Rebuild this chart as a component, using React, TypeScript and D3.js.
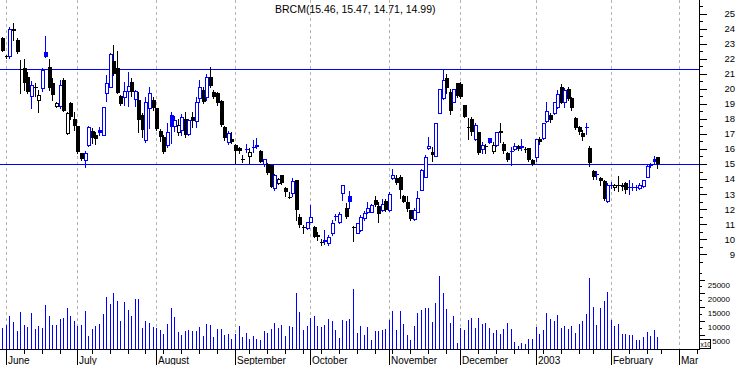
import React from 'react';
import * as d3 from 'd3';

const TITLE = 'BRCM(15.46, 15.47, 14.71, 14.99)';
const startDate = '2002-05-31';
const holidays = ['2002-07-04', '2002-09-02', '2002-11-28', '2002-12-25', '2003-01-01', '2003-01-20', '2003-02-17'];
const monthLabels = ['June', 'July', 'August', 'September', 'October', 'November', 'December', '2003', 'February', 'Mar'];
const monthStartDates = ['2002-06-03', '2002-07-01', '2002-08-01', '2002-09-03', '2002-10-02', '2002-11-01', '2002-12-02', '2003-01-02', '2003-02-03', '2003-03-03'];

const opens = [
  23.35, 22.1, 22.2, 24.0, 23.24, 21.3, 21.4, 20.8, 19.52, 20.1,
  19.25, 20.03, 22.46, 21.42, 20.4, 18.85, 18.85, 20.58, 17.04, 19.03,
  17.97, 17.52, 15.7, 15.27, 16.26, 17.21, 16.9, 17.26, 16.93, 19.7,
  20.14, 21.84, 21.36, 19.52, 19.43, 19.87, 20.47, 19.3, 19.25, 18.26,
  16.6, 18.7, 19.25, 18.7, 17.19, 16.8, 16.26, 18.26, 17.5, 17.1,
  17.26, 17.97, 17.0, 18.1, 17.86, 19.36, 19.92, 19.43, 20.8, 19.76,
  19.7, 19.2, 17.48, 16.48, 16.68, 16.26, 16.08, 15.35, 15.95, 15.53,
  16.05, 16.26, 15.89, 15.0, 15.0, 14.93, 13.38, 13.76, 14.27, 13.43,
  12.8, 13.05, 13.94, 11.5, 10.8, 10.72, 11.17, 10.84, 10.28, 9.8,
  9.95, 9.73, 10.4, 11.45, 11.17, 13.1, 12.05, 12.87, 10.8, 10.44,
  10.6, 11.4, 11.8, 11.83, 12.6, 12.2, 11.94, 12.56, 11.94, 14.05,
  14.1, 14.16, 12.87, 12.5, 11.94, 11.32, 11.83, 13.27, 14.16, 16.04,
  15.82, 15.55, 18.41, 19.36, 20.69, 19.8, 19.14, 20.36, 20.31, 18.92,
  17.45, 17.97, 16.64, 17.15, 15.97, 16.22, 16.7, 15.89, 16.26, 17.21,
  16.33, 15.75, 15.85, 15.97, 16.2, 16.2, 16.0, 16.04, 15.27, 15.44,
  16.64, 16.7, 17.88, 18.26, 18.37, 18.77, 20.14, 19.14, 19.98, 19.36,
  18.03, 17.48, 17.08, 17.4, 16.04, 14.56, 14.3, 14.1, 13.87, 12.56,
  13.6, 13.45, 13.58, 13.6, 13.71, 13.42, 13.5, 13.45, 13.38, 13.54,
  14.16, 14.9, 15.31, 15.46,
];
const highs = [
  23.45, 22.25, 24.08, 24.4, 23.35, 21.9, 21.95, 21.13, 20.5, 20.36,
  19.9, 21.4, 23.5, 21.95, 20.7, 19.1, 20.58, 20.7, 18.45, 19.14,
  18.48, 17.55, 15.75, 15.87, 17.53, 17.37, 17.15, 17.48, 18.77, 20.91,
  22.35, 22.9, 22.5, 19.6, 20.47, 21.13, 20.7, 19.92, 19.8, 18.37,
  19.47, 20.14, 19.47, 18.75, 17.3, 16.95, 17.7, 18.48, 18.2, 17.97,
  18.3, 18.48, 18.0, 18.48, 19.47, 20.58, 20.14, 20.98, 21.47, 19.92,
  19.8, 19.25, 17.5, 17.2, 17.15, 16.35, 16.15, 15.6, 16.33, 16.04,
  16.6, 16.7, 15.92, 15.35, 15.05, 14.95, 14.35, 14.05, 14.3, 13.5,
  13.15, 14.1, 13.96, 11.7, 10.95, 11.17, 12.28, 10.86, 10.5, 10.0,
  10.6, 10.28, 11.28, 11.7, 11.8, 13.6, 12.4, 13.2, 10.85, 11.1,
  11.6, 11.9, 12.5, 12.34, 12.9, 12.5, 12.65, 12.65, 13.15, 14.7,
  14.3, 14.3, 12.95, 12.9, 11.96, 12.05, 13.2, 14.7, 15.6, 16.8,
  16.15, 17.75, 20.0, 21.29, 20.98, 19.96, 20.0, 20.4, 20.45, 18.95,
  18.03, 18.15, 17.7, 17.15, 16.48, 16.35, 16.75, 16.48, 17.15, 17.75,
  16.48, 15.82, 16.1, 16.42, 16.26, 16.64, 16.15, 16.04, 15.3, 16.64,
  16.8, 17.75, 19.14, 18.37, 19.14, 19.92, 20.32, 20.03, 20.14, 19.42,
  18.1, 17.52, 17.26, 17.75, 16.2, 14.6, 14.56, 14.16, 13.94, 13.71,
  13.83, 13.7, 14.2, 13.71, 13.83, 13.94, 13.71, 13.6, 13.71, 13.94,
  14.93, 15.08, 15.53, 15.47,
];
const lows = [
  22.5, 22.05, 22.02, 23.24, 22.35, 19.74, 19.9, 19.7, 18.74, 19.52,
  18.48, 19.85, 22.1, 19.92, 19.25, 18.8, 18.7, 18.5, 17.0, 18.0,
  17.26, 15.7, 15.25, 14.82, 16.2, 16.4, 16.33, 16.93, 16.9, 19.2,
  20.1, 20.9, 19.7, 18.9, 18.92, 18.85, 19.5, 18.85, 17.15, 16.77,
  16.49, 17.37, 18.6, 17.25, 16.5, 15.7, 16.15, 16.37, 17.2, 16.9,
  16.93, 16.82, 16.9, 17.44, 17.44, 19.14, 19.08, 19.25, 20.14, 19.36,
  18.95, 17.55, 16.6, 16.3, 16.4, 15.04, 15.7, 15.15, 15.82, 15.09,
  15.8, 16.05, 15.1, 14.9, 14.35, 13.45, 13.3, 13.7, 13.7, 12.9,
  12.72, 12.85, 11.3, 10.84, 10.43, 10.7, 11.15, 10.15, 9.95, 9.6,
  9.7, 9.65, 10.3, 11.3, 11.1, 12.6, 11.4, 12.05, 9.9, 10.4,
  10.55, 11.3, 11.75, 11.78, 12.2, 11.17, 11.9, 11.9, 11.9, 14.0,
  13.7, 12.72, 12.45, 11.9, 11.28, 11.28, 11.8, 13.25, 14.12, 16.0,
  15.2, 15.52, 18.37, 19.3, 19.7, 18.32, 19.1, 19.45, 19.4, 18.1,
  16.64, 16.9, 16.6, 15.66, 15.71, 15.71, 16.37, 15.75, 16.2, 16.48,
  15.7, 15.2, 14.93, 15.9, 15.93, 15.93, 15.8, 15.22, 14.95, 15.22,
  16.3, 16.64, 17.82, 17.82, 18.32, 18.7, 19.03, 18.8, 19.25, 18.6,
  17.3, 17.0, 16.6, 17.0, 14.87, 14.0, 14.0, 13.6, 12.6, 12.5,
  13.38, 13.3, 13.23, 13.27, 13.1, 13.0, 13.27, 13.27, 13.33, 13.5,
  14.16, 14.8, 15.0, 14.71,
];
const closes = [
  22.53, 22.2, 23.95, 23.86, 22.42, 21.25, 20.4, 19.8, 20.25, 20.05,
  19.56, 21.25, 22.13, 20.03, 19.58, 19.03, 20.25, 18.54, 18.41, 18.1,
  17.52, 15.82, 15.31, 15.71, 17.44, 16.7, 16.68, 17.04, 18.77, 20.36,
  22.29, 20.96, 19.74, 18.99, 19.87, 20.18, 19.8, 19.85, 17.92, 17.26,
  19.14, 19.7, 18.7, 17.3, 16.77, 15.77, 17.1, 17.48, 17.9, 17.6,
  18.15, 16.93, 17.92, 17.86, 19.14, 20.1, 19.14, 20.8, 20.18, 19.47,
  19.03, 17.6, 16.7, 17.08, 16.46, 15.88, 15.86, 15.3, 16.0, 15.82,
  16.12, 16.14, 15.15, 15.3, 14.38, 13.5, 14.27, 13.98, 13.76, 13.16,
  12.78, 13.89, 11.94, 10.95, 10.77, 11.17, 11.5, 10.17, 10.12, 9.77,
  9.8, 10.17, 11.06, 11.52, 11.68, 13.6, 11.5, 12.5, 10.72, 11.06,
  11.5, 11.77, 12.05, 12.27, 12.25, 11.68, 12.34, 11.94, 13.0, 14.27,
  13.76, 13.27, 12.5, 11.99, 11.32, 11.94, 12.72, 14.6, 15.49, 16.2,
  15.6, 17.7, 19.96, 20.6, 20.03, 18.54, 19.96, 19.52, 19.47, 18.15,
  17.41, 17.15, 17.6, 15.71, 16.26, 16.2, 16.42, 16.26, 17.15, 17.04,
  15.89, 15.27, 15.89, 16.2, 15.97, 16.04, 15.97, 15.27, 15.0, 16.64,
  16.48, 17.7, 18.54, 17.92, 19.14, 19.65, 19.08, 19.92, 19.3, 18.7,
  17.37, 17.15, 16.82, 17.44, 15.09, 14.16, 14.34, 13.9, 12.65, 13.6,
  13.62, 13.6, 13.56, 13.5, 13.27, 13.45, 13.46, 13.47, 13.6, 13.94,
  14.87, 14.93, 15.15, 14.99,
];
const volumes = [
  7700, 8600, 11900, 9700, 6500, 13300, 8600, 7900, 12900, 7200,
  8300, 7600, 15800, 11900, 8600, 8600, 10800, 11200, 14700, 11900,
  10100, 8300, 8600, 13700, 4700, 7200, 8300, 9000, 12600, 18700,
  16200, 20100, 17300, 10100, 16900, 14000, 11900, 18000, 18000, 7600,
  10100, 9400, 7900, 7600, 6800, 5400, 9000, 14700, 11500, 6100,
  5000, 6500, 6800, 6500, 6500, 7900, 4700, 9000, 8600, 4300,
  7200, 7200, 5000, 5400, 3600, 5400, 8300, 4300, 5800, 3600,
  4700, 3600, 3200, 6500, 5800, 7200, 9400, 7600, 8600, 4700,
  8300, 7900, 20100, 13300, 6800, 8300, 11200, 11900, 8300, 7900,
  8600, 10800, 10100, 6800, 4000, 10400, 10100, 10800, 21600, 5800,
  8300, 5000, 7900, 3200, 6500, 6500, 6800, 7200, 10400, 13700,
  6800, 13700, 9000, 5000, 3200, 8300, 12900, 14000, 14700, 14700,
  9700, 16500, 26400, 20100, 14400, 9400, 11900, 2200, 7600, 6800,
  10400, 11200, 7600, 11200, 9000, 9400, 7600, 5800, 6800, 5400,
  7200, 9400, 7200, 2500, 1100, 2200, 1800, 3600, 3600, 7900,
  5400, 6800, 12900, 10800, 10100, 12200, 7600, 8300, 7200, 8300,
  5800, 9000, 10100, 12600, 25700, 15100, 8600, 14700, 17300, 20500,
  10400, 8300, 9000, 5400, 5400, 5000, 5000, 3200, 3200, 4300,
  6100, 4700, 6800, 4300,
];

const priceLabels = [9, 10, 11, 12, 13, 14, 15, 16, 17, 18, 19, 20, 21, 22, 23, 24, 25];
const priceMinorTicks = [8.5, 9.5, 10.5, 11.5, 12.5, 13.5, 14.5, 15.5, 16.5, 17.5, 18.5, 19.5, 20.5, 21.5, 22.5, 23.5, 24.5, 25.5];
const volumeLabels = [5000, 10000, 15000, 20000, 25000];
const volumeTicks = [2500, 5000, 7500, 10000, 12500, 15000, 17500, 20000, 22500, 25000, 27500];
const volumeUnit = 'x10';
const levelLines = [21.3, 15.0];

const W = 738;
const H = 365;
const AXIS_X = 699;
const BASE_Y = 349;
const BLUE = '#0000ff';
const FONT = '"Liberation Sans", Arial, sans-serif';

function tradingDays(start: string, count: number): string[] {
  const hol = new Set(holidays);
  const out: string[] = [];
  const d = new Date(start + 'T00:00:00Z');
  while (out.length < count) {
    const wd = d.getUTCDay();
    const iso = d.toISOString().slice(0, 10);
    if (wd !== 0 && wd !== 6 && !hol.has(iso)) out.push(iso);
    d.setUTCDate(d.getUTCDate() + 1);
  }
  return out;
}

export default function App() {
  const n = closes.length;
  const days = tradingDays(startDate, 200);
  const x = d3.scaleLinear().domain([0, n - 1]).range([2.3, 657.3]);
  const yP = d3.scaleLinear().domain([15, 25]).range([164, 13.5]);
  const yV = d3.scaleLinear().domain([0, 25000]).range([BASE_Y, 279.5]);
  const px = (i: number) => Math.round(x(i));

  const weekStarts: number[] = [];
  for (let i = 1; i < days.length; i++) {
    const a = new Date(days[i - 1] + 'T00:00:00Z').getUTCDay();
    const b = new Date(days[i] + 'T00:00:00Z').getUTCDay();
    if (b <= a) weekStarts.push(i);
  }
  const monthIdx = monthStartDates.map((s) => days.indexOf(s));

  const candles = d3.range(n).map((i) => {
    const o = opens[i], h = highs[i], l = lows[i], c = closes[i];
    const up = i === 0 ? c >= o : c >= closes[i - 1];
    const color = up ? BLUE : '#000000';
    const hollow = c > o;
    const cx = px(i);
    const top = Math.round(yP(Math.max(o, c)));
    const bot = Math.round(yP(Math.min(o, c)));
    const hi = Math.round(yP(h));
    const lo = Math.round(yP(l));
    return (
      <g key={i}>
        <line x1={cx + 0.5} x2={cx + 0.5} y1={hi} y2={lo + 1} stroke={color} strokeWidth={1} />
        {hollow && bot - top >= 2 ? (
          <rect x={cx - 0.5} y={top + 0.5} width={3} height={bot - top} fill="#ffffff" stroke={color} strokeWidth={1} />
        ) : (
          <rect x={cx - 1} y={top} width={4} height={Math.max(1, bot - top)} fill={color} />
        )}
      </g>
    );
  });

  return (
    <svg width={W} height={H} style={{ position: 'absolute', left: 0, top: 0, background: '#ffffff' }} fontFamily={FONT}>
      <rect x={0} y={0} width={W} height={H} fill="#ffffff" />
      {monthIdx.map((idx, k) => (
        <line key={'g' + k} x1={px(idx) + 0.5} x2={px(idx) + 0.5} y1={0} y2={BASE_Y} stroke="#b4b4b4" strokeWidth={1} strokeDasharray="3,3" />
      ))}
      {levelLines.map((v, k) => (
        <line key={'l' + k} x1={0} x2={AXIS_X} y1={Math.round(yP(v)) + 0.5} y2={Math.round(yP(v)) + 0.5} stroke={BLUE} strokeWidth={1} />
      ))}
      {volumes.map((v, i) => (
        <line key={'v' + i} x1={px(i) + 0.5} x2={px(i) + 0.5} y1={BASE_Y} y2={Math.round(yV(v))} stroke={BLUE} strokeWidth={1} />
      ))}
      <g>{candles}</g>
      <text x={275} y={12.5} fontSize={10.5} fill="#000">{TITLE}</text>
      <line x1={AXIS_X + 0.5} x2={AXIS_X + 0.5} y1={0} y2={BASE_Y + 1} stroke="#000" />
      <line x1={0} x2={AXIS_X} y1={BASE_Y + 0.5} y2={BASE_Y + 0.5} stroke="#000" />
      {priceLabels.map((v) => (
        <g key={'p' + v}>
          <line x1={AXIS_X} x2={AXIS_X + 8} y1={Math.round(yP(v)) + 0.5} y2={Math.round(yP(v)) + 0.5} stroke="#000" />
          <text x={735} y={yP(v)} dy="0.36em" textAnchor="end" fontSize={9.5} fill="#000">{v}</text>
        </g>
      ))}
      {priceMinorTicks.map((v) => (
        <line key={'pm' + v} x1={AXIS_X} x2={AXIS_X + 4} y1={Math.round(yP(v)) + 0.5} y2={Math.round(yP(v)) + 0.5} stroke="#000" />
      ))}
      {volumeTicks.map((v) => (
        <line key={'vt' + v} x1={AXIS_X} x2={AXIS_X + (v % 5000 === 0 ? 6 : 3)} y1={Math.round(yV(v)) + 0.5} y2={Math.round(yV(v)) + 0.5} stroke="#000" />
      ))}
      {volumeLabels.map((v) => (
        <text key={'vl' + v} x={730} y={yV(v) + 6} dy="0.36em" textAnchor="end" fontSize={8} fill="#000">{v}</text>
      ))}
      <rect x={699.5} y={339.5} width={11} height={9} fill="#ffffff" stroke="#000" />
      <text x={700.5} y={346.5} fontSize={6.5} fill="#000">{volumeUnit}</text>
      {weekStarts.filter((i) => x(i) < AXIS_X).map((i) => (
        <line key={'w' + i} x1={px(i) + 0.5} x2={px(i) + 0.5} y1={BASE_Y} y2={BASE_Y + 5} stroke="#000" />
      ))}
      <clipPath id="xclip"><rect x={0} y={BASE_Y} width={AXIS_X} height={20} /></clipPath>
      <g clipPath="url(#xclip)">
        {monthIdx.map((idx, k) => (
          <g key={'m' + k}>
            <line x1={px(idx) + 0.5} x2={px(idx) + 0.5} y1={BASE_Y} y2={H} stroke="#000" />
            <text x={px(idx) + 2} y={363.5} fontSize={10} fill="#000">{monthLabels[k]}</text>
          </g>
        ))}
      </g>
    </svg>
  );
}
